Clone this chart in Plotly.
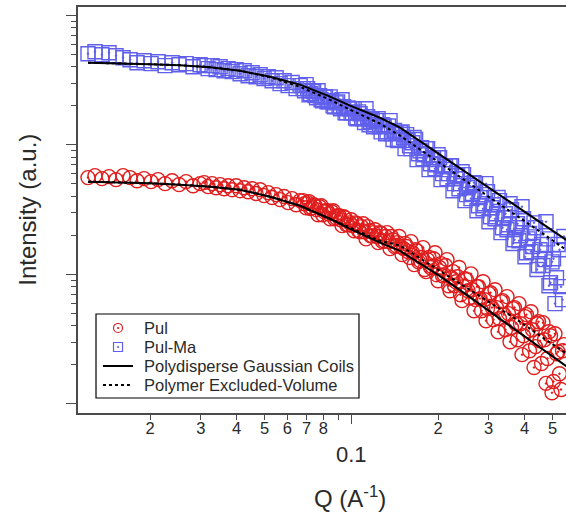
import plotly.graph_objects as go

# ---- measured scattering data (shared Q grid, A^-1) ----
q_data = [
    0.01218, 0.01288, 0.01362, 0.01441, 0.01524, 0.01612, 0.01705, 0.01803, 0.01907, 0.02017,
    0.02133, 0.02256, 0.02386, 0.02523, 0.02669, 0.02822, 0.02985,
    0.03082, 0.03182, 0.03286, 0.03393, 0.03503, 0.03617, 0.03734, 0.03856, 0.03981, 0.04110,
    0.04244, 0.04382, 0.04524, 0.04671, 0.04823, 0.04980, 0.05142, 0.05309, 0.05481, 0.05659,
    0.05843, 0.06033, 0.06229, 0.06432, 0.06641,
    0.06802, 0.06967, 0.07136, 0.07309, 0.07487, 0.07668, 0.07855, 0.08045, 0.08240, 0.08440,
    0.08645, 0.08855, 0.09070, 0.09290, 0.09515, 0.09746, 0.09983, 0.1023, 0.1047, 0.1073,
    0.1099, 0.1125, 0.1153, 0.1181, 0.1209, 0.1239, 0.1269, 0.1300, 0.1331, 0.1363,
    0.1396, 0.1430, 0.1465, 0.1501, 0.1537, 0.1574, 0.1612, 0.1652, 0.1692, 0.1733,
    0.1775, 0.1818, 0.1862, 0.1907, 0.1953, 0.2001, 0.2049, 0.2099, 0.2150, 0.2202,
    0.2255, 0.2310, 0.2366, 0.2424, 0.2482, 0.2543, 0.2604, 0.2668, 0.2732, 0.2799,
    0.2867, 0.2936, 0.3007, 0.3080, 0.3155, 0.3232, 0.3310, 0.3390, 0.3473, 0.3557,
    0.3643, 0.3732, 0.3822, 0.3915, 0.4010, 0.4107, 0.4207, 0.4309, 0.4414, 0.4521,
    0.4630, 0.4743, 0.4858, 0.4976, 0.5096, 0.5220, 0.5347, 0.5476,
]

pul = [
    55.9, 57.9, 54.9, 56.9, 53.9, 57.9, 55.9, 52.9, 54.9, 52.0,
    53.9, 50.2, 52.9, 49.3, 52.0, 48.4, 50.2,
    51.1, 47.6, 50.2, 46.7, 49.3, 45.9, 48.4, 45.1, 48.4, 44.3,
    46.7, 43.5, 45.9, 42.1, 45.1, 40.6, 42.8, 39.2, 41.3, 37.8,
    39.9, 35.8, 38.5, 34.5, 37.1,
    37.1, 32.7, 36.5, 32.7, 33.9, 28.9, 33.9, 30.5, 31.0, 26.9,
    31.0, 27.4, 28.4, 23.8, 27.4, 24.2, 26.4, 21.7, 24.6, 21.3,
    24.6, 18.8, 21.7, 19.9, 22.1, 17.6, 20.7, 18.2, 21.0, 15.8,
    18.5, 16.7, 19.6, 14.2, 17.3, 15.0, 17.9, 11.9, 15.2, 12.8,
    16.1, 10.5, 13.5, 11.5, 14.7, 8.94, 12.1, 9.95, 13.0, 7.48,
    10.5, 8.78, 11.3, 6.27, 9.27, 7.48, 10.1, 5.24, 8.04, 6.50,
    8.78, 4.39, 7.10, 5.54, 7.62, 3.61, 6.16, 4.89, 6.73, 3.02,
    5.44, 4.16, 5.95, 2.40, 4.72, 3.67, 5.15, 1.91, 4.16, 3.07,
    4.24, 1.44, 3.61, 1.22, 3.48, 2.53, 1.29, 2.87,
]

pul_ma = [
    506, 524, 497, 515, 488, 471, 455, 431, 447, 424,
    439, 409, 431, 416, 424, 401, 416,
    409, 388, 409, 381, 401, 374, 388, 368, 381, 354,
    374, 342, 361, 336, 348, 325, 336, 313, 330, 297,
    313, 287, 303, 272, 287,
    272, 292, 244, 262, 240, 262, 223, 235, 215, 235,
    200, 211, 197, 223, 177, 193, 177, 190, 159, 174,
    159, 190, 143, 157, 143, 159, 126, 140, 126, 154,
    110, 124, 110, 126, 93.5, 108, 93.5, 114, 76.9, 90.1,
    78.2, 93.5, 64.4, 76.9, 65.5, 84.0, 53.9, 64.4, 54.8, 69.0,
    44.3, 54.8, 45.9, 62.1, 37.1, 46.7, 38.5, 51.1, 31.0, 39.2,
    32.1, 50.2, 25.5, 32.7, 26.9, 39.2, 21.0, 27.4, 22.1, 35.1,
    17.3, 22.9, 18.2, 33.3, 13.7, 18.8, 15.0, 25.0, 10.9, 15.5,
    11.7, 25.5, 8.18, 12.5, 5.95, 17.0, 8.04, 19.6,
]

# intermediate-Q points recorded between the grid above
q_data_mid = [
    0.06884, 0.07051, 0.07222, 0.07397, 0.07577, 0.07761, 0.07950, 0.08142, 0.08339, 0.08542,
    0.08749, 0.08962, 0.09179, 0.09402, 0.09630, 0.09864, 0.1010, 0.1035, 0.1060, 0.1086,
    0.1112, 0.1139, 0.1167, 0.1195, 0.1224, 0.1254, 0.1284, 0.1316, 0.1347, 0.1379,
    0.1413, 0.1447, 0.1483,
]

pul_mid = [
    35.1, 35.8, 32.2, 34.5, 31.6, 33.3, 28.9, 31.0, 29.4, 30.5,
    26.9, 28.4, 26.4, 27.9, 24.2, 25.0, 23.8, 25.0, 21.7, 23.4,
    21.3, 23.4, 19.9, 21.0, 19.6, 21.0, 17.9, 19.6, 17.9, 19.6,
    16.4, 17.6, 16.4,
]

pul_ma_mid = [
    262, 272, 248, 258, 231, 240, 219, 235, 215, 219,
    197, 215, 190, 197, 177, 190, 177, 162, 180, 162,
    149, 165, 152, 138, 154, 138, 143, 122, 140, 122,
    129, 108, 124,
]

# high-Q points recorded between the grid above
q_data_hi = [
    0.1519, 0.1556, 0.1593, 0.1631, 0.1672, 0.1712, 0.1754, 0.1796, 0.1840, 0.1884,
    0.1930, 0.1977, 0.2025, 0.2074, 0.2124, 0.2176, 0.2229, 0.2282, 0.2338, 0.2395,
    0.2453, 0.2512, 0.2574, 0.2635, 0.2700, 0.2765, 0.2833, 0.2902, 0.2971, 0.3043,
    0.3117, 0.3193, 0.3271, 0.3350, 0.3431, 0.3515, 0.3600, 0.3687, 0.3777, 0.3868,
    0.3962, 0.4058, 0.4157, 0.4258, 0.4361, 0.4467, 0.4576, 0.4686, 0.4800, 0.4917,
    0.5036, 0.5157, 0.5283, 0.5412,
]

pul_hi = [
    15.8, 16.4, 13.5, 14.7, 15.5, 12.5, 13.5, 10.9, 13.0, 11.3,
    13.2, 9.95, 11.3, 9.77, 11.7, 8.18, 9.43, 8.18, 9.60, 6.97,
    8.04, 9.10, 6.61, 7.62, 6.38, 8.04, 5.24, 6.38, 5.44, 7.22,
    4.47, 5.54, 4.55, 6.27, 3.74, 4.98, 3.88, 5.54, 3.13, 4.16,
    3.36, 4.89, 2.57, 3.74, 2.77, 4.31, 2.05, 3.13, 2.24, 3.36,
    1.49, 2.44, 1.71, 2.57,
]

pul_ma_hi = [
    114, 120, 98.6, 104, 110, 85.5, 95.2, 84.0, 93.5, 71.6,
    79.6, 70.3, 79.6, 60.0, 67.8, 60.0, 69.0, 50.2, 57.8, 50.2,
    58.9, 41.3, 48.4, 42.1, 50.2, 33.9, 41.3, 35.1, 43.5, 27.9,
    34.5, 29.4, 37.1, 22.9, 29.4, 24.2, 31.6, 18.5, 24.6, 19.9,
    26.9, 14.7, 20.7, 16.4, 22.9, 11.7, 17.0, 13.0, 18.8, 8.63,
    13.2, 9.43, 15.5, 6.38,
]

# ---- model fits ----
q_fit = [0.01218, 0.01574, 0.02000, 0.02542, 0.03232, 0.04107, 0.05222, 0.06635, 0.08433,
         0.09900, 0.1258, 0.1476, 0.2032, 0.2522, 0.3030, 0.3761, 0.4522, 0.5568, 0.5800]

pul_gauss = [52.0, 51.5, 50.6, 49.3, 47.6, 45.1, 39.8, 33.9, 26.9,
             22.5, 17.6, 15.2, 9.69, 6.91, 5.15, 3.68, 2.74, 1.97, 1.84]
pul_exvol = [52.0, 51.5, 50.6, 49.3, 47.6, 45.1, 39.8, 33.9, 26.9,
             22.9, 18.2, 16.7, 10.7, 7.89, 6.05, 4.47, 3.36, 2.49, 2.31]
pulma_gauss = [431, 428, 420, 412, 398, 374, 336, 292, 236,
               201, 162, 136, 84.0, 61.0, 46.3, 33.6, 25.5, 18.5, 17.4]
pulma_exvol = [431, 428, 420, 412, 398, 374, 333, 281, 223,
               187, 146, 118, 72.9, 52.0, 39.1, 28.4, 21.4, 15.5, 14.6]

# ---- axis ticks ----
x_label_vals = [0.02, 0.03, 0.04, 0.05, 0.06, 0.07, 0.08, 0.2, 0.3, 0.4, 0.5]
x_label_text = ["2", "3", "4", "5", "6", "7", "8", "2", "3", "4", "5"]
x_unlabelled_vals = [0.09]
x_decade_vals = [0.1]
x_decade_text = ["0.1"]
y_major_vals = [1, 10, 100, 1000]
y_minor_vals = [m * d for d in (1, 10, 100) for m in range(2, 10)]

# ---- legend entries ----
legend_labels = ["Pul", "Pul-Ma", "Polydisperse Gaussian Coils", "Polymer Excluded-Volume"]

RED = "rgb(224,30,30)"
BLUE = "rgb(96,96,236)"
AX = "#4a4a4a"
TXT = "#2a2a2a"
FONT = "Liberation Sans, Arial, sans-serif"
X_RANGE = [-1.949, -0.2545]

q_all = q_data + q_data_mid + q_data_hi

fig = go.Figure()

fig.add_trace(go.Scatter(
    x=q_all, y=pul + pul_mid + pul_hi, mode="markers", name="Pul", showlegend=False,
    marker=dict(symbol="circle-open-dot", size=14, color=RED, line=dict(width=1.4, color=RED)),
))
fig.add_trace(go.Scatter(
    x=q_all, y=pul_ma + pul_ma_mid + pul_ma_hi, mode="markers", name="Pul-Ma", showlegend=False,
    marker=dict(symbol="square-open-dot", size=14, color=BLUE, line=dict(width=1.4, color=BLUE)),
))

for yv, name in ((pul_gauss, "Pul"), (pulma_gauss, "Pul-Ma")):
    fig.add_trace(go.Scatter(
        x=q_fit, y=yv, mode="lines", name=name + " – " + legend_labels[2], showlegend=False,
        line=dict(color="black", width=2),
    ))
for yv, name in ((pul_exvol, "Pul"), (pulma_exvol, "Pul-Ma")):
    fig.add_trace(go.Scatter(
        x=q_fit, y=yv, mode="lines", name=name + " – " + legend_labels[3], showlegend=False,
        line=dict(color="black", width=2, dash="dot"),
    ))

# carrier for the decade tick axis
fig.add_trace(go.Scatter(x=[None], y=[None], xaxis="x2", yaxis="y", showlegend=False))

# ---- hand-built legend box (paper coordinates) ----
LEG_X0, LEG_X1, LEG_Y0, LEG_Y1 = 0.0369, 0.5758, 0.0369, 0.2438
row_y = [0.2094, 0.1626, 0.1158, 0.0690]
sym_x0, sym_x1, sym_xc, text_x = 0.0512, 0.1127, 0.0820, 0.1311

# legend marker samples on a hidden unit overlay
fig.add_trace(go.Scatter(
    x=[sym_xc], y=[row_y[0]], xaxis="x3", yaxis="y3", mode="markers", showlegend=False,
    hoverinfo="skip",
    marker=dict(symbol="circle-open-dot", size=9, color=RED, line=dict(width=1.2, color=RED)),
))
fig.add_trace(go.Scatter(
    x=[sym_xc], y=[row_y[1]], xaxis="x3", yaxis="y3", mode="markers", showlegend=False,
    hoverinfo="skip",
    marker=dict(symbol="square-open-dot", size=9, color=BLUE, line=dict(width=1.2, color=BLUE)),
))

shapes = [
    dict(type="rect", xref="paper", yref="paper", x0=LEG_X0, x1=LEG_X1, y0=LEG_Y0, y1=LEG_Y1,
         line=dict(color="black", width=1.2), fillcolor="white", layer="below"),
    dict(type="line", xref="paper", yref="paper", x0=sym_x0, x1=sym_x1, y0=row_y[2], y1=row_y[2],
         line=dict(color="black", width=2)),
    dict(type="line", xref="paper", yref="paper", x0=sym_x0, x1=sym_x1, y0=row_y[3], y1=row_y[3],
         line=dict(color="black", width=2, dash="dot")),
]

annotations = [
    dict(text=lab, x=text_x, y=yy, xref="paper", yref="paper", xanchor="left", yanchor="middle",
         showarrow=False, font=dict(size=16.5, color=TXT, family=FONT))
    for lab, yy in zip(legend_labels, row_y)
]
annotations += [
    dict(text="Q (A<sup>-1</sup>)", x=0.557, xref="paper", y=-0.207, yref="paper",
         xanchor="center", yanchor="middle", showarrow=False,
         font=dict(size=24, color=TXT, family=FONT)),
    dict(text="Intensity (a.u.)", x=-0.105, xref="paper", y=0.5, yref="paper",
         xanchor="center", yanchor="middle", textangle=-90, showarrow=False,
         font=dict(size=24, color=TXT, family=FONT)),
]

fig.update_layout(
    width=566, height=516,
    margin=dict(l=78, r=0, t=7, b=103),
    paper_bgcolor="white", plot_bgcolor="white",
    font=dict(family=FONT, color=TXT),
    showlegend=False,
    shapes=shapes,
    annotations=annotations,
    xaxis=dict(
        type="log", range=X_RANGE,
        showgrid=False, zeroline=False,
        showline=True, linecolor=AX, linewidth=1.5, mirror=True,
        ticks="outside", ticklen=5, tickwidth=1.3, tickcolor=AX,
        tickmode="array", tickvals=x_label_vals, ticktext=x_label_text,
        ticklabelstandoff=-6,
        tickfont=dict(size=16.5, color=TXT, family=FONT),
        minor=dict(tickmode="array", tickvals=x_unlabelled_vals, ticks="outside",
                   ticklen=5, tickwidth=1.3, tickcolor=AX, showgrid=False),
    ),
    xaxis2=dict(
        type="log", range=X_RANGE, overlaying="x", anchor="y", side="bottom",
        showgrid=False, zeroline=False, showline=False,
        ticks="outside", ticklen=10, tickwidth=1.3, tickcolor=AX,
        tickmode="array", tickvals=x_decade_vals, ticktext=x_decade_text,
        ticklabelstandoff=12,
        tickfont=dict(size=22, color=TXT, family=FONT),
    ),
    xaxis3=dict(range=[0, 1], overlaying="x", anchor="y3", visible=False, fixedrange=True),
    yaxis3=dict(range=[0, 1], overlaying="y", anchor="x3", visible=False, fixedrange=True),
    yaxis=dict(
        type="log", range=[-0.0703, 3.0648],
        showgrid=False, zeroline=False,
        showline=True, linecolor=AX, linewidth=1.5, mirror=False,
        ticks="outside", ticklen=10, tickwidth=1.3, tickcolor=AX,
        tickmode="array", tickvals=y_major_vals, showticklabels=False,
        minor=dict(tickmode="array", tickvals=y_minor_vals, ticks="outside",
                   ticklen=5, tickwidth=1.3, tickcolor=AX, showgrid=False),
    ),
)

fig.write_html("out.html")
